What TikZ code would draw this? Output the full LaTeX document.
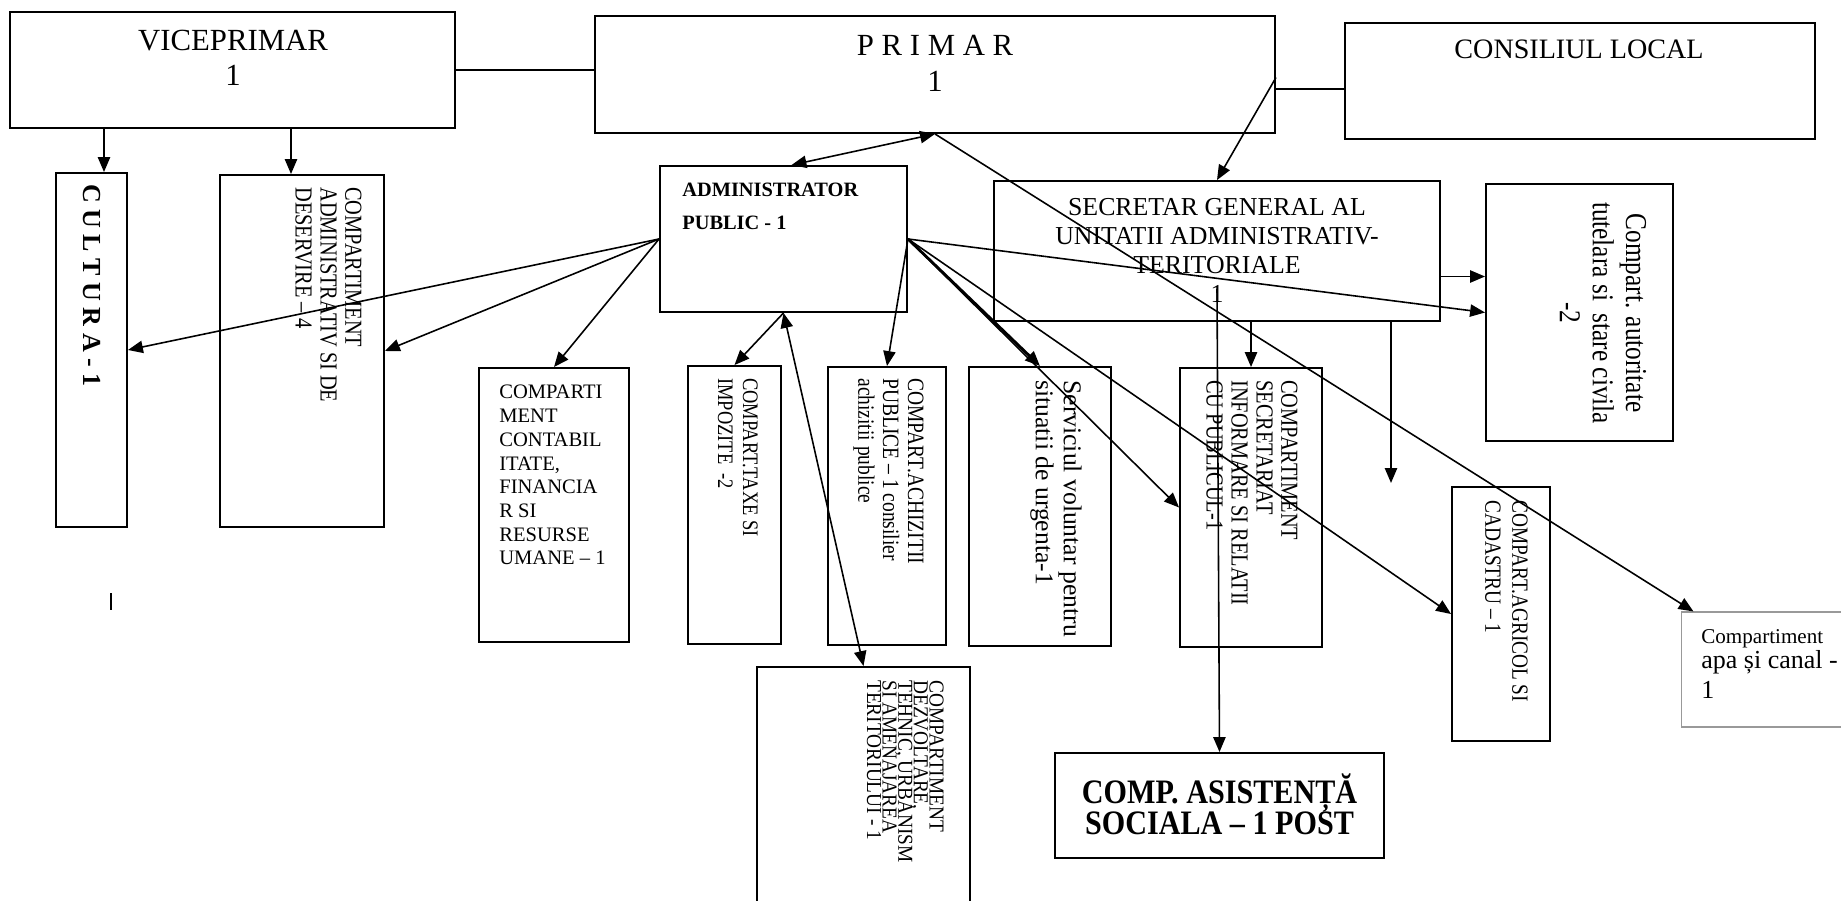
\documentclass[tikz,border=0pt]{standalone}
\usepackage{fontspec}
\setmainfont{Liberation Serif}
\usepackage{graphicx}
\usetikzlibrary{arrows.meta,fit,calc}
\lineskiplimit=-100pt
\newcommand\tallr[1]{\scalebox{1}[1.2]{#1}}
\newcommand\tallq[1]{\scalebox{1}[1.1]{#1}}
\begin{document}
\begin{tikzpicture}[x=0.02cm,y=-0.02cm,
  box/.style={draw, line width=1.1pt, inner sep=0pt},
  con/.style={line width=0.9pt},
  arr/.style={con, -{Triangle[length=8.5pt,width=7pt]}},
  biarr/.style={con, {Triangle[length=8.5pt,width=7pt]}-{Triangle[length=8.5pt,width=7pt]}},
  rt/.style={rotate=-90, anchor=north west, align=left, inner sep=0pt},
  tx/.style={inner sep=0pt}]
\useasboundingbox (0,0) rectangle (1841,901);

% boxes
\node[box, fit={(10,12) (455,128)}] (vice) {};
\node[box, fit={(595,16) (1275,133)}] (primar) {};
\node[box, fit={(1345,23) (1815,139)}] (cons) {};
\node[box, fit={(56,173) (127,527)}] (cultura) {};
\node[box, fit={(220,175) (384,527)}] (deser) {};
\node[box, fit={(660,166) (907,312)}] (admin) {};
\node[box, fit={(994,181) (1440,321)}] (secretar) {};
\node[box, fit={(1486,184) (1673,441)}] (aut) {};
\node[box, fit={(479,368) (629,642)}] (contab) {};
\node[box, fit={(688,366) (781,644)}] (taxe) {};
\node[box, fit={(828,367) (946,645)}] (ach) {};
\node[box, fit={(969,367) (1111,646)}] (serv) {};
\node[box, fit={(1180,368) (1322,647)}] (secr) {};
\node[box, fit={(1452,487) (1550,741)}] (agr) {};
\node[draw=black!40, line width=0.6pt, inner sep=0pt, fit={(1681,612) (1845,727)}] (apa) {};
\node[box, fit={(757,667) (970,904)}] (dezv) {};
\node[box, fit={(1055,753) (1384,858)}] (asis) {};

% texts
\node[tx, anchor=north, align=center, font=\fontsize{17.5}{19.9}\selectfont] (viceT) at (233,30) {VICEPRIMAR\\1};
\node[tx, anchor=north, align=center, font=\fontsize{17.5}{20.5}\selectfont] (primT) at (935,35) {P R I M A R\\1};
\node[tx, anchor=north, font=\fontsize{16}{19}\selectfont] (consT) at (1579,40) {CONSILIUL LOCAL};
\node[tx, anchor=north, align=center, font=\fontsize{14.7}{16.5}\selectfont] (secT) at (1217,198) {SECRETAR GENERAL AL\\UNITATII ADMINISTRATIV-\\TERITORIALE\\1};
\node[tx, anchor=north west, align=left, font=\bfseries\fontsize{11.6}{18.8}\selectfont] (admT) at (682,183) {ADMINISTRATOR\\PUBLIC - 1};
\node[tx, anchor=north west, align=left, font=\fontsize{11.7}{13.5}\selectfont] (contT) at (499,385) {COMPARTI\\MENT\\CONTABIL\\ITATE,\\FINANCIA\\R SI\\RESURSE\\UMANE – 1};
\node[rt, anchor=west, font=\bfseries\fontsize{14.8}{16}\selectfont] (cultT) at (92,184) {C U L T U R A - 1};
\node[rt, font=\fontsize{11.6}{14.2}\selectfont] (deserT) at (362,187) {\tallr{COMPARTIMENT}\\\tallr{ADMINISTRATIV SI DE}\\\tallr{DESERVIRE – 4}};
\node[rt, font=\fontsize{10.5}{14.2}\selectfont] (taxeT) at (758,378) {\tallr{COMPART.TAXE SI}\\\tallr{IMPOZITE \ -2}};
\node[rt, font=\fontsize{11.1}{14.2}\selectfont] (achT) at (924,378) {\tallr{COMPART.ACHIZITII}\\\tallr{PUBLICE – 1 consilier}\\\tallr{achizitii publice}};
\node[rt, font=\fontsize{14.6}{15.9}\selectfont] (servT) at (1082,380) {Serviciul voluntar pentru\\situatii de urgenta-1};
\node[rt, font=\fontsize{11.6}{14.2}\selectfont] (secrT) at (1298,380) {\tallr{COMPARTIMENT}\\\tallr{SECRETARIAT}\\\tallr{INFORMARE SI RELATII}\\\tallr{CU PUBLICUL-1}};
\node[rt, font=\fontsize{11}{15.4}\selectfont] (agrT) at (1528,500) {\tallr{COMPART.AGRICOL SI}\\\tallr{CADASTRU – 1}};
\node[rt, font=\fontsize{11}{8.9}\selectfont] (dezvT) at (944,680) {\tallq{COMPARTIMENT}\\\tallq{DEZVOLTARE,}\\\tallq{TEHNIC, URBANISM}\\\tallq{SI AMENAJAREA}\\\tallq{TERITORIULUI - 1}};
\node[rt, anchor=center, align=center, font=\fontsize{14.4}{18.8}\selectfont] (autT) at (1603,313) {\tallr{Compart. autoritate}\\\tallr{tutelara si \ stare civila}\\\tallr{-2}};
\node[tx, align=center, font=\bfseries\fontsize{19.5}{17.8}\selectfont] (asisT) at (1219.5,804) {\scalebox{0.88}[1]{COMP. ASISTENȚĂ}\\\scalebox{0.88}[1]{SOCIALA – 1 POST}};
\node[tx, anchor=north west, align=left, font=\fontsize{12}{14.2}\selectfont] (apaT) at (1701,629) {Compartiment\\{\fontsize{14.8}{17}\selectfont apa și canal -}\\[2.9pt]{\fontsize{14.8}{17}\selectfont 1}};

% helper coordinates
\coordinate (pc) at ($(cons.west)+(0,8)$);
\coordinate (pcJ) at ($(primar.east)+(0,3)$);
\coordinate (cultIn) at ($(cultura.north)+(12.5,0)$);
\coordinate (deserIn) at ($(deser.north)+(-11,0)$);
\coordinate (autIn) at ($(aut.west)+(0,-36)$);
\coordinate (freeEnd) at (1391,483);
\coordinate (secIn) at ($(secretar.center)+(0,38)$);
\coordinate (apaIn) at ($(apa.north west)+(13,0)$);
\coordinate (admTop) at ($(admin.north)+(8,0)$);

% connectors
\draw[con] (vice.east) -- (vice.east -| primar.west);
\draw[con] (pc) -- (pc -| primar.east);
\draw[arr] (pcJ) -- (secretar.north);
\draw[biarr] (primar.south) -- (admTop);
\draw[arr] (primar.south) -- (apaIn);
\draw[arr] (vice.south -| cultIn) -- (cultIn);
\draw[arr] (vice.south -| deserIn) -- (deserIn);
\draw[arr] (admin.west) -- (cultura.east);
\draw[arr] (admin.west) -- (deser.east);
\draw[arr] (admin.west) -- (contab.north);
\draw[arr] (admin.south) -- (taxe.north);
\draw[biarr] (admin.south) -- (dezv.north);
\draw[arr] (admin.east) -- (ach.north);
\draw[arr, line width=1.6pt] (admin.east) -- (serv.north);
\draw[arr] (admin.east) -- (secr.west);
\draw[arr] (admin.east) -- (agr.west);
\draw[arr] (admin.east) -- (aut.west);
\draw[arr] (autIn -| secretar.east) -- (autIn);
\draw[arr] (secretar.south -| secr.north) -- (secr.north);
\draw[arr] (secretar.south -| freeEnd) -- (freeEnd);
\draw[arr] (secIn) -- (asis.north);
% stray tick mark
\draw[con] (111,593) -- (111,610);
\end{tikzpicture}
\end{document}
